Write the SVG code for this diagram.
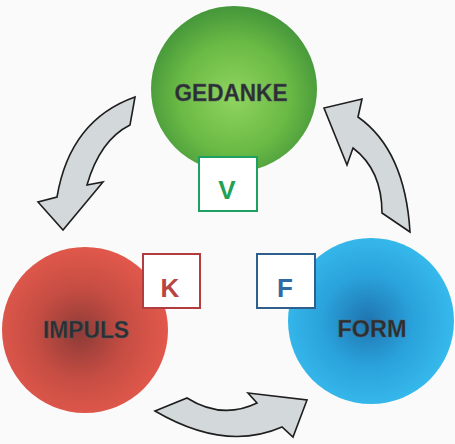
<svg xmlns="http://www.w3.org/2000/svg" width="455" height="444" viewBox="0 0 455 444">
<defs>
<radialGradient id="gGreen" cx="0.5" cy="0.55" r="0.55">
<stop offset="0" stop-color="#90d460"/>
<stop offset="0.6" stop-color="#6aba45"/>
<stop offset="1" stop-color="#44963a"/>
</radialGradient>
<radialGradient id="gRed" cx="0.47" cy="0.52" r="0.55">
<stop offset="0" stop-color="#8e3b37"/>
<stop offset="0.5" stop-color="#c64d43"/>
<stop offset="1" stop-color="#e4594c"/>
</radialGradient>
<radialGradient id="gBlue" cx="0.48" cy="0.5" r="0.55">
<stop offset="0" stop-color="#1f74b0"/>
<stop offset="0.5" stop-color="#2aa2db"/>
<stop offset="1" stop-color="#38bcee"/>
</radialGradient>
<style>
.arrow{fill:#d3d8da;stroke:#1e1e1e;stroke-width:1.6;stroke-linejoin:miter}
.lbl{font-family:"Liberation Sans",Arial,sans-serif;font-weight:bold;font-size:24px;fill:#2a2f33;text-anchor:middle;stroke:#55595c;stroke-width:0.4}
.box{fill:#ffffff;stroke-width:2}
.let{font-family:"Liberation Sans",Arial,sans-serif;font-weight:bold;font-size:26px;text-anchor:middle}
</style>
</defs>
<rect width="455" height="444" fill="#fafafa"/>
<g id="connectors">
<path class="arrow" d="M135,97 L130,125 Q100,140 87,185 L103,182 L63,230 L38,202 L57,197 Q70,120 135,97 Z"/>
<path class="arrow" d="M155,411 L187,398 Q222,420 257,403 L248,393 L307,400 L293,437 L282,427 Q225,452 155,411 Z"/>
<path class="arrow" d="M410,232 L382,213 Q382,170 353,148 L347,165 L324,108 L362,99 L358,117 Q405,150 410,232 Z"/>
</g>
<g id="gedanke">
<circle cx="234" cy="89" r="83" fill="url(#gGreen)"/>
<text class="lbl" x="231" y="101" font-size="26" textLength="113" lengthAdjust="spacingAndGlyphs">GEDANKE</text>
</g>
<g id="impuls">
<circle cx="85" cy="330" r="83" fill="url(#gRed)"/>
<text class="lbl" x="86" y="338" textLength="86" lengthAdjust="spacingAndGlyphs">IMPULS</text>
</g>
<g id="form">
<circle cx="371" cy="321" r="83" fill="url(#gBlue)"/>
<text class="lbl" x="372" y="337" textLength="69" lengthAdjust="spacingAndGlyphs">FORM</text>
</g>
<g id="box-v">
<rect class="box" x="199" y="157" width="58" height="54" stroke="#1fa063"/>
<text class="let" x="227" y="199" fill="#22a155">V</text>
</g>
<g id="box-k">
<rect class="box" x="143" y="254" width="57" height="54" stroke="#b23c3e"/>
<text class="let" x="170" y="297" fill="#b84443">K</text>
</g>
<g id="box-f">
<rect class="box" x="257" y="254" width="58" height="54" stroke="#2f5f8c"/>
<text class="let" x="285" y="297" fill="#2e6aa6">F</text>
</g>
</svg>
